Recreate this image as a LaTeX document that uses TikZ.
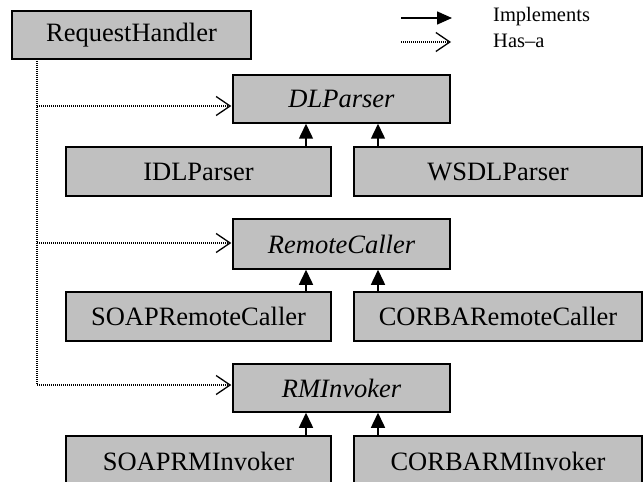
\documentclass[tikz,border=0pt]{standalone}
\usepackage{fontspec}
\setmainfont{Liberation Serif}
\usetikzlibrary{arrows.meta}
\definecolor{boxgray}{RGB}{192,192,192}
\begin{document}
\begin{tikzpicture}[x=1pt,y=-1pt,
  cls/.style={draw=black,fill=boxgray,line width=1.5pt,inner sep=0pt,
    font=\fontsize{26.5}{30}\selectfont},
  iface/.style={cls,font=\fontsize{26.5}{30}\selectfont\itshape},
  impl/.style={line width=1.5pt,-{Triangle[length=15pt,width=14pt]}},
  hasa/.style={line width=1.2pt,dash pattern=on 1pt off 1pt,
    -{Straight Barb[length=14pt,width=19pt,line width=1.3pt,sep=1pt]}},
  dotline/.style={line width=1.2pt,dash pattern=on 1pt off 1pt},
  legtext/.style={anchor=west,inner sep=0pt,font=\fontsize{20.5}{22}\selectfont}]
\useasboundingbox (0,0) rectangle (644,481);
\clip (0,0) rectangle (644,481);
% boxes
\node[cls,minimum width=239pt,minimum height=48pt] (rh) at (131.5,35) {RequestHandler};
\node[iface,minimum width=217pt,minimum height=48pt] (dl) at (341.5,99) {DLParser};
\node[cls,minimum width=265pt,minimum height=49pt] (idl) at (198.5,171.5) {IDLParser};
\node[cls,minimum width=288pt,minimum height=49pt] (wsdl) at (498,171.5) {WSDLParser};
\node[iface,minimum width=217pt,minimum height=50pt] (rc) at (341.5,244) {RemoteCaller};
\node[cls,minimum width=265pt,minimum height=49pt] (src) at (198.5,316.5) {SOAPRemoteCaller};
\node[cls,minimum width=288pt,minimum height=49pt] (crc) at (498,316.5) {CORBARemoteCaller};
\node[iface,minimum width=217pt,minimum height=48pt] (rmi) at (341.5,388) {RMInvoker};
\node[cls,minimum width=265pt,minimum height=50pt] (srmi) at (198.5,461) {SOAPRMInvoker};
\node[cls,minimum width=288pt,minimum height=50pt] (crmi) at (498,461) {CORBARMInvoker};
% implements arrows
\draw[impl] ([xshift=107.5pt]idl.north) -- ([xshift=107.5pt]idl.north |- dl.south);
\draw[impl] ([xshift=-120pt]wsdl.north) -- ([xshift=-120pt]wsdl.north |- dl.south);
\draw[impl] ([xshift=107.5pt]src.north) -- ([xshift=107.5pt]src.north |- rc.south);
\draw[impl] ([xshift=-120pt]crc.north) -- ([xshift=-120pt]crc.north |- rc.south);
\draw[impl] ([xshift=107.5pt]srmi.north) -- ([xshift=107.5pt]srmi.north |- rmi.south);
\draw[impl] ([xshift=-120pt]crmi.north) -- ([xshift=-120pt]crmi.north |- rmi.south);
% has-a connectors
\coordinate (v0) at (37,59);
\coordinate (v1) at (37,106);
\coordinate (v2) at (37,243);
\coordinate (v3) at (37,385);
\draw[dotline] (v0) -- (v3);
\draw[hasa] (v1) -- (dl.west |- v1);
\draw[hasa] (v2) -- (rc.west |- v2);
\draw[hasa] (v3) -- (rmi.west |- v3);
% legend
\coordinate (l1a) at (401,18);
\coordinate (l1b) at (452,18);
\coordinate (l2a) at (401,42);
\coordinate (l2b) at (452,42);
\draw[line width=1.5pt,-{Triangle[length=15pt,width=13pt]}] (l1a) -- (l1b);
\draw[hasa] (l2a) -- (l2b);
\node[legtext] (limpl) at (493,17) {Implements};
\node[legtext] (lhas) at (493,41) {Has–a};
\end{tikzpicture}
\end{document}
